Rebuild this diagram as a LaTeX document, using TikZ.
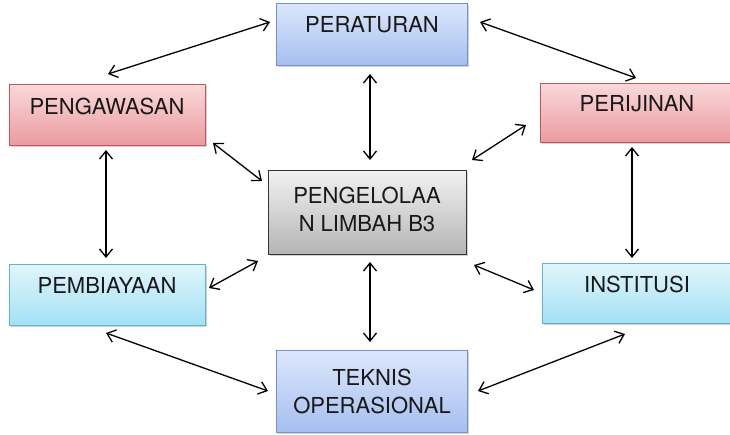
\documentclass[tikz,border=0pt]{standalone}
\usepackage{fontspec}
\setmainfont{TeX Gyre Heros}
\usetikzlibrary{shadows,arrows.meta}
\definecolor{blueTop}{HTML}{DCE7FB}
\definecolor{blueBot}{HTML}{A6BFF0}
\definecolor{blueLine}{HTML}{7393CC}
\definecolor{redTop}{HTML}{F9D9DA}
\definecolor{redBot}{HTML}{EC9BA0}
\definecolor{redLine}{HTML}{C2555A}
\definecolor{cyanTop}{HTML}{E2F5FC}
\definecolor{cyanBot}{HTML}{A3E1F4}
\definecolor{cyanLine}{HTML}{5FB3CC}
\definecolor{grayTop}{HTML}{F2F2F2}
\definecolor{grayBot}{HTML}{B5B5B5}
\tikzset{
  box/.style={rectangle, line width=0.8pt,
    drop shadow={shadow xshift=1.5pt, shadow yshift=-1.5pt, opacity=0.35}},
  bluebox/.style={box, draw=blueLine, top color=blueTop, bottom color=blueBot},
  redbox/.style={box, draw=redLine, top color=redTop, bottom color=redBot},
  cyanbox/.style={box, draw=cyanLine, top color=cyanTop, bottom color=cyanBot},
  graybox/.style={box, draw=black!80, top color=grayTop, bottom color=grayBot},
  label/.style={font=\fontsize{22}{28}\selectfont, align=center, text=black!90},
  link/.style={{Straight Barb[length=8pt,width=13pt,line width=1.3pt]}-{Straight Barb[length=8pt,width=13pt,line width=1.3pt]}, line width=1.3pt, black}
}
\begin{document}
\begin{tikzpicture}[x=1pt,y=-1pt]
\useasboundingbox (0,0) rectangle (730,434);
% boxes and their captions
\path[bluebox] (276,3) rectangle (467,65);
\node[label] (per) at (372,25) {PERATURAN};
\path[redbox] (9,84) rectangle (205,145);
\node[label] (pen) at (107,106) {PENGAWASAN};
\path[redbox] (540,83) rectangle (734,142);
\node[label] (pri) at (637,104) {PERIJINAN};
\path[graybox] (268,170) rectangle (466,254);
\node[label] (mid) at (367,209) {PENGELOLAA\\N LIMBAH B3};
\path[cyanbox] (9,264) rectangle (205,325);
\node[label] (bia) at (107,285) {PEMBIAYAAN};
\path[cyanbox] (542,263) rectangle (734,323);
\node[label] (ins) at (637,284) {INSTITUSI};
\path[bluebox] (276,350) rectangle (467,432);
\node[label] (tek) at (372,391) {TEKNIS\\OPERASIONAL};
% connector end points
\coordinate (a1) at (270,22);   \coordinate (a2) at (108,74);
\coordinate (b1) at (480,22);   \coordinate (b2) at (636,78);
\coordinate (c1) at (370,74);   \coordinate (c2) at (370,160);
\coordinate (d1) at (213,143);  \coordinate (d2) at (262,181);
\coordinate (e1) at (526,125);  \coordinate (e2) at (472,160);
\coordinate (f1) at (106,150);  \coordinate (f2) at (106,258);
\coordinate (g1) at (632,147);  \coordinate (g2) at (632,258);
\coordinate (h1) at (209,288);  \coordinate (h2) at (258,261);
\coordinate (i1) at (474,265);  \coordinate (i2) at (534,290);
\coordinate (j1) at (370,262);  \coordinate (j2) at (370,342);
\coordinate (k1) at (106,333);  \coordinate (k2) at (268,391);
\coordinate (l1) at (625,334);  \coordinate (l2) at (478,391);
\foreach \s/\e in {a1/a2,b1/b2,c1/c2,d1/d2,e1/e2,f1/f2,g1/g2,h1/h2,i1/i2,j1/j2,k1/k2,l1/l2}
  \draw[link] (\s) -- (\e);
\end{tikzpicture}
\end{document}
